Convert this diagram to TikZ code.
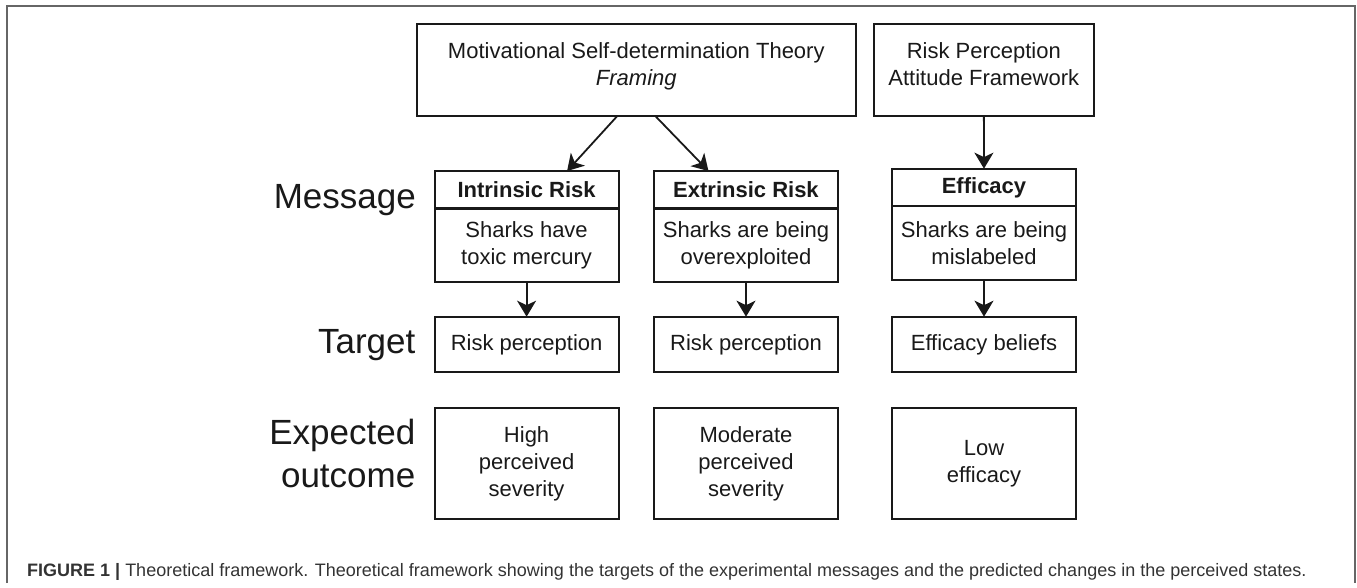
\documentclass[tikz,border=0pt]{standalone}
\usepackage{fontspec}
\setmainfont{Liberation Sans}
\usetikzlibrary{positioning,arrows.meta}

\begin{document}
\begin{tikzpicture}[x=1pt,y=-1pt,
    box/.style={draw=black!90,line width=2.2pt,align=center,inner sep=0pt,outer sep=0pt,
      text=black!90,font=\fontsize{22}{27}\selectfont},
    theorybox/.style={box,minimum height=92,text depth=12pt},
    headbox/.style={box,minimum width=184,minimum height=37.5},
    msgbox/.style={box,minimum width=184,minimum height=73.5},
    tgtbox/.style={box,minimum width=184,minimum height=55.6},
    outbox/.style={box,minimum width=184,minimum height=111.3},
    rowlbl/.style={inner sep=0pt,text=black!90,font=\fontsize{35}{43}\selectfont},
    arr/.style={-{Stealth[length=16pt,width=19pt,inset=4.5pt]},line width=1.8pt,draw=black!90}]
      \useasboundingbox (0,0) rectangle (1357,588);
      \draw[black!60,line width=1.3pt] (7,583) |- (1355,6) -- (1355,583);
      \node[theorybox,minimum width=439] (sdt) at (636.3,70)
        {Motivational Self-determination Theory\\\textit{Framing}};
      \node[theorybox,minimum width=220] (rpa) at (983.8,70)
        {Risk Perception\\Attitude Framework};
      \node[headbox] (intr) at (526.6,189.8) {\textbf{Intrinsic Risk}};
      \node[msgbox,below=0pt of intr] (intrmsg) {Sharks have\\toxic mercury};
      \node[headbox] (extr) at (746,189.8) {\textbf{Extrinsic Risk}};
      \node[msgbox,below=0pt of extr] (extrmsg) {Sharks are being\\overexploited};
      \node[headbox] (eff) at (984,187.4) {\textbf{Efficacy}};
      \node[msgbox,below=0pt of eff] (effmsg) {Sharks are being\\mislabeled};
      \node[tgtbox] (intrtgt) at (526.6,344.5) {Risk perception};
      \node[tgtbox] (extrtgt) at (746,344.5) {Risk perception};
      \node[tgtbox] (efftgt) at (984,344.5) {Efficacy beliefs};
      \node[outbox] (introut) at (526.6,463.4) {High\\perceived\\severity};
      \node[outbox] (extrout) at (746,463.4) {Moderate\\perceived\\severity};
      \node[outbox] (effout) at (984,463.4) {Low\\efficacy};
      \node[rowlbl,anchor=base east] (msglbl) at (416,208.3) {Message};
      \node[rowlbl,anchor=base east] (tgtlbl) at (415.5,353.3) {Target};
      \node[rowlbl,anchor=north east,align=right] (outlbl) at (415.5,419) {Expected\\outcome};
      \draw[arr] ([xshift=-19pt]sdt.south) -- ([xshift=40.5pt]intr.north);
      \draw[arr] ([xshift=19pt]sdt.south) -- ([xshift=-37.5pt]extr.north);
      \draw[arr] (rpa) -- (eff);
      \draw[arr] (intrmsg) -- (intrtgt);
      \draw[arr] (extrmsg) -- (extrtgt);
      \draw[arr] (effmsg) -- (efftgt);
      \node[anchor=base west,inner sep=0pt,text=black!80,font=\fontsize{18}{20}\selectfont] (cap) at (27,576.7)
        {\textbf{FIGURE 1 |} Theoretical framework. Theoretical framework showing the targets of the experimental messages and the predicted changes in the perceived states.};
\end{tikzpicture}
\end{document}
